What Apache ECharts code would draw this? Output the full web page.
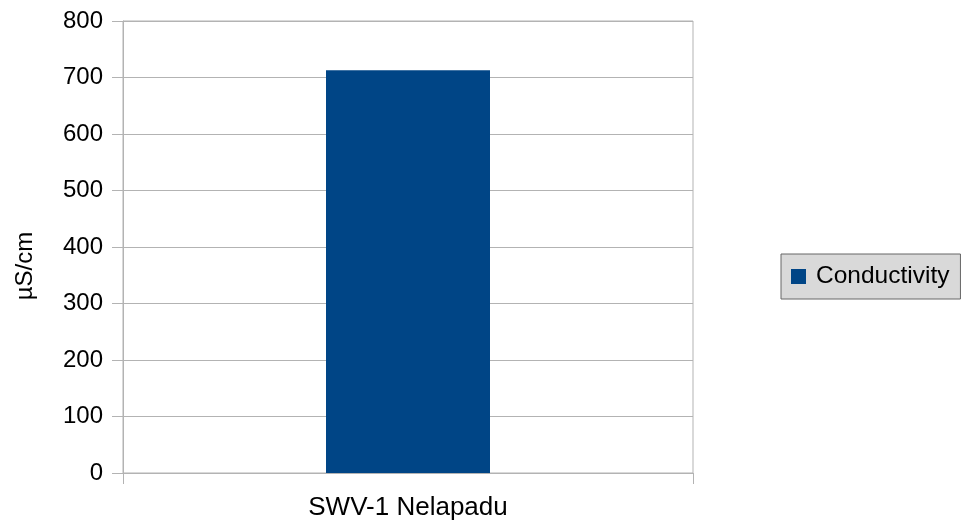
<!DOCTYPE html>
<html>
<head>
<meta charset="utf-8">
<script src="https://cdn.jsdelivr.net/npm/echarts@6/dist/echarts.min.js"></script>
<style>
html,body{margin:0;padding:0;background:#fff;}
#chart{width:962px;height:527px;}
</style>
</head>
<body>
<div id="chart"></div>
<script>
const categories = ['SWV-1 Nelapadu'];
const seriesName = 'Conductivity';
const conductivity = [713];
const yTicks = { min: 0, max: 800, interval: 100 };
const yAxisTitle = 'µS/cm';

const chart = echarts.init(document.getElementById('chart'));
const font = '"Liberation Sans", Arial, sans-serif';
chart.setOption({
  animation: false,
  backgroundColor: '#ffffff',
  grid: {
    left: 123, right: 269, top: 21, bottom: 54,
    show: true, borderColor: '#b3b3b3', borderWidth: 1, backgroundColor: 'transparent'
  },
  graphic: [{
    type: 'text',
    x: 25, y: 266,
    rotation: Math.PI / 2,
    style: {
      text: yAxisTitle,
      fontFamily: font, fontSize: 24, fill: '#000',
      textAlign: 'center', textVerticalAlign: 'middle'
    }
  }],
  legend: {
    data: [seriesName],
    left: 781, top: 254,
    orient: 'vertical',
    backgroundColor: '#d9d9d9',
    borderColor: '#666666',
    borderWidth: 1,
    borderRadius: 0,
    padding: [10, 11, 10, 10],
    itemWidth: 15, itemHeight: 15,
    icon: 'rect',
    textStyle: { fontFamily: font, fontSize: 24.5, color: '#000', padding: [0, 0, 0, 5] }
  },
  xAxis: {
    type: 'category',
    data: categories,
    axisLine: { show: true, lineStyle: { color: '#b3b3b3' } },
    axisTick: { show: true, length: 11, lineStyle: { color: '#b3b3b3' } },
    axisLabel: { fontFamily: font, fontSize: 26, color: '#000', margin: 22 },
    splitLine: { show: false }
  },
  yAxis: {
    type: 'value',
    min: yTicks.min, max: yTicks.max, interval: yTicks.interval,
    axisLine: { show: true, lineStyle: { color: '#b3b3b3' } },
    axisTick: { show: true, length: 11, lineStyle: { color: '#b3b3b3' } },
    axisLabel: { fontFamily: font, fontSize: 24, color: '#000', margin: 20 },
    splitLine: { show: true, lineStyle: { color: '#b3b3b3' } }
  },
  series: [{
    name: seriesName,
    type: 'bar',
    data: conductivity,
    barWidth: 164,
    itemStyle: { color: '#004586' }
  }]
});
</script>
</body>
</html>
